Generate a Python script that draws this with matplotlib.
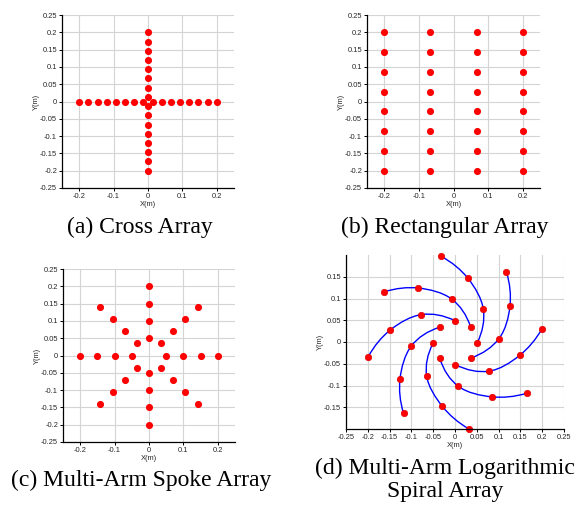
import numpy as np
import matplotlib
matplotlib.use("Agg")
import matplotlib.pyplot as plt
from matplotlib.path import Path
from matplotlib.patches import PathPatch
from matplotlib.ticker import FuncFormatter

# (a) cross array: one row and one column of 16 elements
cross_pos = [-0.2, -0.1733, -0.1467, -0.12, -0.0933, -0.0667, -0.04, -0.0133,
             0.0133, 0.04, 0.0667, 0.0933, 0.12, 0.1467, 0.1733, 0.2]

# (b) rectangular array: 4 columns x 8 rows
rect_cols = [-0.2, -0.0667, 0.0667, 0.2]
rect_rows = [-0.2, -0.1429, -0.0857, -0.0286, 0.0286, 0.0857, 0.1429, 0.2]

# (c) spoke array
spoke_x = [0, 0, 0, 0, 0, 0, 0, 0,
           -0.2, -0.15, -0.1, -0.05, 0.05, 0.1, 0.15, 0.2,
           -0.141, -0.106, -0.071, -0.035, 0.035, 0.071, 0.106, 0.141,
           -0.141, -0.106, -0.071, -0.035, 0.035, 0.071, 0.106, 0.141]
spoke_y = [-0.2, -0.15, -0.1, -0.05, 0.05, 0.1, 0.15, 0.2,
           0, 0, 0, 0, 0, 0, 0, 0,
           -0.141, -0.106, -0.071, -0.035, 0.035, 0.071, 0.106, 0.141,
           0.141, 0.106, 0.071, 0.035, -0.035, -0.071, -0.106, -0.141]

# (d) log spiral array, 8 arms, outer -> inner
spiral_x = [[-0.032, 0.030, 0.065, 0.051],
            [0.118, 0.126, 0.101, 0.036],
            [0.200, 0.148, 0.078, 0.001],
            [0.164, 0.084, 0.008, -0.035],
            [0.032, -0.029, -0.065, -0.050],
            [-0.118, -0.126, -0.100, -0.035],
            [-0.199, -0.148, -0.077, 0.000],
            [-0.163, -0.084, -0.008, 0.036]]
spiral_y = [[0.197, 0.146, 0.075, -0.002],
            [0.161, 0.082, 0.008, -0.037],
            [0.031, -0.031, -0.067, -0.052],
            [-0.118, -0.126, -0.102, -0.037],
            [-0.200, -0.148, -0.078, -0.002],
            [-0.164, -0.084, -0.009, 0.034],
            [-0.034, 0.028, 0.063, 0.049],
            [0.115, 0.124, 0.099, 0.034]]

captions = ["(a) Cross Array", "(b) Rectangular Array",
            "(c) Multi-Arm Spoke Array", "(d) Multi-Arm Logarithmic\nSpiral Array"]

RED = "#ff0000"
GRID = "#d4d4d4"
TXT = "#262626"


def fmt(v, pos):
    v = round(v, 4)
    if v == 0:
        return "0"
    return ("%g" % v)


def style(ax, xt, yt, xl, yl):
    ax.set_xlim(*xl)
    ax.set_ylim(*yl)
    ax.set_xticks(xt)
    ax.set_yticks(yt)
    ax.xaxis.set_major_formatter(FuncFormatter(fmt))
    ax.yaxis.set_major_formatter(FuncFormatter(fmt))
    ax.grid(True, color=GRID, linewidth=0.8)
    ax.set_axisbelow(True)
    for s in ["top", "right"]:
        ax.spines[s].set_visible(False)
    for s in ["left", "bottom"]:
        ax.spines[s].set_linewidth(0.9)
    ax.tick_params(direction="out", length=2, width=0.7, pad=1.5,
                   labelsize=5.4, labelcolor=TXT)
    for lab in ax.get_xticklabels() + ax.get_yticklabels():
        lab.set_family("Liberation Sans")
    ax.set_xlabel("X(m)", fontsize=5.4, color=TXT, family="Liberation Sans", labelpad=1)
    ax.set_ylabel("Y(m)", fontsize=5.4, color=TXT, family="Liberation Sans", labelpad=0)


def smooth_path(xs, ys):
    p = np.column_stack([xs, ys])
    n = len(p)
    m = np.zeros_like(p)
    for i in range(1, n - 1):
        m[i] = (p[i + 1] - p[i - 1]) / 2
    m[0] = 2 * (p[1] - p[0]) - m[1]
    m[-1] = 2 * (p[-1] - p[-2]) - m[-2]
    verts = [p[0]]
    codes = [Path.MOVETO]
    for i in range(n - 1):
        verts += [p[i] + m[i] / 3, p[i + 1] - m[i + 1] / 3, p[i + 1]]
        codes += [Path.CURVE4] * 3
    return Path(verts, codes)


fig = plt.figure(figsize=(5.79, 5.07), dpi=100)
W, H = 579.0, 507.0


def add_ax(l, r, t, b):
    return fig.add_axes([l / W, 1 - b / H, (r - l) / W, (b - t) / H])


full = [-0.25, -0.2, -0.15, -0.1, -0.05, 0, 0.05, 0.1, 0.15, 0.2, 0.25]
xt = [-0.2, -0.1, 0, 0.1, 0.2]
ms = 4.1

# (a)
ax = add_ax(62, 234, 15, 188)
style(ax, xt, full, (-0.25, 0.25), (-0.25, 0.25))
ax.plot(cross_pos, np.zeros(len(cross_pos)), "o", color=RED, ms=ms, mec=RED)
ax.plot(np.zeros(len(cross_pos)), cross_pos, "o", color=RED, ms=ms, mec=RED)

# (b)
ax = add_ax(367, 540, 15, 188)
style(ax, xt, full, (-0.25, 0.25), (-0.25, 0.25))
for cx in rect_cols:
    ax.plot(np.full(len(rect_rows), cx), rect_rows, "o", color=RED, ms=ms, mec=RED)

# (c)
ax = add_ax(63, 235, 269, 442)
style(ax, xt, full, (-0.25, 0.25), (-0.25, 0.25))
ax.plot(spoke_x, spoke_y, "o", color=RED, ms=ms, mec=RED)

# (d)
ax = add_ax(346, 564, 255, 429)
style(ax, full, [-0.15, -0.1, -0.05, 0, 0.05, 0.1, 0.15], (-0.25, 0.25), (-0.2, 0.2))
for xs, ys in zip(spiral_x, spiral_y):
    ax.add_patch(PathPatch(smooth_path(xs, ys), facecolor="none",
                           edgecolor="#0000ff", linewidth=1.0))
    ax.plot(xs, ys, "o", color=RED, ms=4.6, mec="#e00000", mew=0.5, clip_on=False)

# captions
cap_kw = dict(fontsize=17, family="Liberation Serif", color="black",
              ha="center", va="center")
fig.text(140 / W, 1 - 227 / H, captions[0], **cap_kw)
fig.text(445 / W, 1 - 227 / H, captions[1], **cap_kw)
fig.text(141 / W, 1 - 480 / H, captions[2], **cap_kw)
fig.text(445 / W, 1 - 480 / H, captions[3], linespacing=1.12, **cap_kw)

fig.savefig("out.png", dpi=100, facecolor="white")
